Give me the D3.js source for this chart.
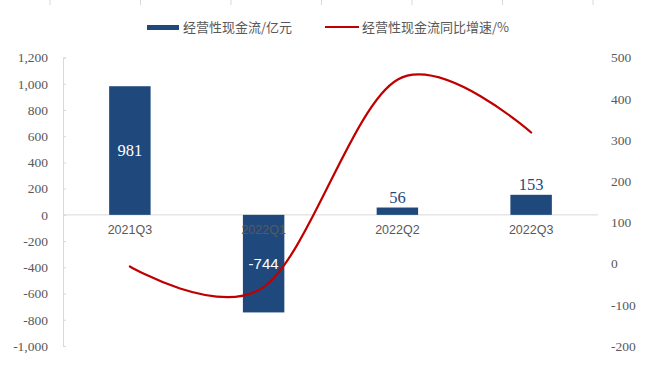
<!DOCTYPE html>
<html>
<head>
<meta charset="utf-8">
<script src="https://cdn.jsdelivr.net/npm/d3@7"></script>
<style>
  html, body { margin: 0; padding: 0; background: #fff; }
  svg { display: block; }
</style>
</head>
<body>
<svg id="chart" width="646" height="368"></svg>
<script>
// Quarterly operating cash flow (亿元) and its YoY growth (%)
const categories = ["2021Q3", "2022Q1", "2022Q2", "2022Q3"];
const cashFlow = [981, -744, 56, 153];
const growth = [-7, -57, 446, 318];
const leftTicks = [1200, 1000, 800, 600, 400, 200, 0, -200, -400, -600, -800, -1000];
const rightTicks = [500, 400, 300, 200, 100, 0, -100, -200];
const seriesNames = ["经营性现金流/亿元", "经营性现金流同比增速/%"];

const W = 646, H = 368;
const plot = { left: 63, right: 598, top: 57.5, bottom: 346 };
const barColor = "#1F497D";
const lineColor = "#C00000";
const axisGray = "#D9D9D9";
const textGray = "#595959";
const serif = "'Liberation Serif', 'Times New Roman', serif";
const sans = "'Liberation Sans', Arial, sans-serif";
const cjk = "'Noto Sans CJK SC', sans-serif";

// thousands separator with a plain hyphen for negatives
const commaFmt = d3.format(",");
const fmt = d => commaFmt(d).replace("\u2212", "-");

const svg = d3.select("#chart");

const x = d3.scaleBand()
  .domain(categories)
  .range([plot.left, plot.right])
  .paddingInner(0.69)
  .paddingOuter(0.345);

const yL = d3.scaleLinear().domain([-1000, 1200]).range([plot.bottom, plot.top]);
const yR = d3.scaleLinear().domain([-200, 500]).range([plot.bottom, plot.top]);

// faint tick marks along the upper edge
const topScale = d3.scaleLinear().domain([0, 6]).range([50, 593]);
svg.append("g").selectAll("line")
  .data(d3.range(0, 7))
  .join("line")
  .attr("x1", d => topScale(d)).attr("x2", d => topScale(d))
  .attr("y1", 0).attr("y2", 5)
  .attr("stroke", axisGray).attr("stroke-width", 1);

// left axis
const leftAxis = d3.axisLeft(yL)
  .tickValues(leftTicks)
  .tickSize(-3)
  .tickPadding(15)
  .tickFormat(fmt);
const gL = svg.append("g")
  .attr("transform", `translate(${plot.left},0)`)
  .call(leftAxis);
gL.select(".domain").attr("stroke", axisGray);
gL.selectAll(".tick line").attr("stroke", axisGray);
gL.selectAll(".tick text")
  .attr("fill", textGray)
  .style("font-family", serif)
  .style("font-size", "13.5px");

// right axis (labels only)
const rightAxis = d3.axisRight(yR)
  .tickValues(rightTicks)
  .tickSize(0)
  .tickPadding(13)
  .tickFormat(fmt);
const gR = svg.append("g")
  .attr("transform", `translate(${plot.right},0)`)
  .call(rightAxis);
gR.select(".domain").remove();
gR.selectAll(".tick text")
  .attr("fill", textGray)
  .style("font-family", serif)
  .style("font-size", "13.5px");

// zero line
svg.append("line")
  .attr("x1", plot.left).attr("x2", plot.right)
  .attr("y1", yL(0)).attr("y2", yL(0))
  .attr("stroke", axisGray).attr("stroke-width", 1);

// bars
svg.append("g").selectAll("rect")
  .data(categories)
  .join("rect")
  .attr("x", d => x(d))
  .attr("width", x.bandwidth())
  .attr("y", (d, i) => Math.min(yL(cashFlow[i]), yL(0)))
  .attr("height", (d, i) => Math.abs(yL(cashFlow[i]) - yL(0)))
  .attr("fill", barColor);

// category labels
svg.append("g").selectAll("text")
  .data(categories)
  .join("text")
  .attr("x", d => x(d) + x.bandwidth() / 2)
  .attr("y", yL(0) + 19)
  .attr("text-anchor", "middle")
  .attr("fill", textGray)
  .style("font-family", sans)
  .style("font-size", "12.5px")
  .text(d => d);

// value labels
const cx = d => x(d) + x.bandwidth() / 2;
categories.forEach((c, i) => {
  const v = cashFlow[i];
  const barH = Math.abs(yL(v) - yL(0));
  const t = svg.append("text")
    .attr("x", cx(c))
    .attr("text-anchor", "middle")
    .text(String(v));
  if (barH > 40) {
    t.attr("y", (yL(v) + yL(0)) / 2)
      .attr("dy", "0.35em")
      .attr("fill", "#fff");
    if (v < 0) t.style("font-family", sans).style("font-size", "15px");
    else t.style("font-family", serif).style("font-size", "16.5px");
  } else {
    t.attr("y", yL(v) - 5)
      .attr("fill", barColor)
      .style("font-family", serif)
      .style("font-size", "16.5px");
  }
});

// growth line (smoothed)
const line = d3.line()
  .x((d, i) => cx(categories[i]))
  .y(d => yR(d))
  .curve(d3.curveCardinal.tension(0));
svg.append("path")
  .datum(growth)
  .attr("d", line)
  .attr("fill", "none")
  .attr("stroke", lineColor)
  .attr("stroke-width", 2.2)
  .attr("stroke-linecap", "round");

// legend
const lg = svg.append("g");
lg.append("rect")
  .attr("x", 147).attr("y", 25).attr("width", 32).attr("height", 5)
  .attr("fill", barColor);
lg.append("text")
  .attr("x", 183).attr("y", 27.5).attr("dy", "0.35em")
  .attr("fill", textGray)
  .style("font-family", cjk).style("font-size", "13px")
  .text(seriesNames[0]);
lg.append("line")
  .attr("x1", 325).attr("x2", 359).attr("y1", 27).attr("y2", 27)
  .attr("stroke", lineColor).attr("stroke-width", 2.2);
lg.append("text")
  .attr("x", 362).attr("y", 27.5).attr("dy", "0.35em")
  .attr("fill", textGray)
  .style("font-family", cjk).style("font-size", "13px")
  .text(seriesNames[1]);
</script>
</body>
</html>
